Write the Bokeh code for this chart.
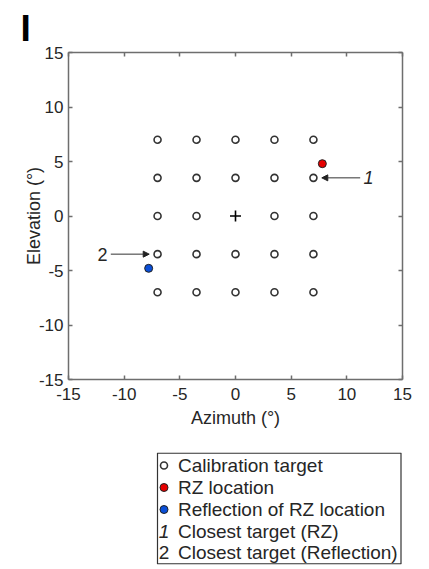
import itertools
from bokeh.plotting import figure
from bokeh.models import Range1d, LinearAxis, FixedTicker, Arrow, NormalHead, ColumnDataSource
from bokeh.layouts import column
from bokeh.embed import file_html
from bokeh.resources import INLINE
from bokeh.core.properties import value

# ---------------- data ----------------
target_az = [-7, -3.5, 0, 3.5, 7]
target_el = [7, 3.5, 0, -3.5, -7]
center_az = [0]
center_el = [0]
rz_az = [7.8]
rz_el = [4.8]
refl_az = [-7.8]
refl_el = [-4.8]
closest_labels = ["1", "2"]
closest_label_style = ["italic", "normal"]
closest_label_align = ["left", "right"]
arrow_start_az = [11.2, -11.2]
arrow_end_az = [7.75, -7.75]
arrow_el = [3.5, -3.5]
label_az = [11.5, -11.5]
ticks = [-15, -10, -5, 0, 5, 10, 15]
tick_labels = ["-15", "-10", "-5", "0", "5", "10", "15"]
legend_labels = ["Calibration target", "RZ location", "Reflection of RZ location",
                 "Closest target (RZ)", "Closest target (Reflection)"]
legend_numbers = ["1", "2"]
legend_number_style = ["italic", "normal"]

FONT = "Liberation Sans"
AXIS_COLOR = "#6e6e6e"
TEXT_COLOR = "#262626"

grid = [(a, e) for a, e in itertools.product(target_az, target_el) if not (a == 0 and e == 0)]
grid_az = [g[0] for g in grid]
grid_el = [g[1] for g in grid]

W = 421
BL, BR = 68, W - 402

# ---------------- main figure ----------------
p = figure(width=W, height=440, x_range=Range1d(-15, 15), y_range=Range1d(-15, 15),
           output_backend="svg", toolbar_location=None,
           min_border_left=BL, min_border_right=BR, min_border_top=52, min_border_bottom=61)
p.grid.visible = False
p.outline_line_color = None
p.background_fill_color = "white"
p.border_fill_color = "white"

p.title.text = "I"
p.title.text_font = FONT
p.title.text_font_size = "37px"
p.title.text_font_style = "bold"
p.title.text_color = "black"
p.title.align = "left"
p.title.offset = -48
p.title.standoff = 8

def style_axis(ax, labels=True):
    ax.ticker = FixedTicker(ticks=ticks)
    ax.axis_line_color = AXIS_COLOR
    ax.axis_line_width = 1.5
    ax.major_tick_line_color = AXIS_COLOR
    ax.major_tick_line_width = 1.5
    ax.major_tick_in = 4
    ax.major_tick_out = 0
    ax.minor_tick_line_color = None
    if labels:
        ax.major_label_overrides = {t: l for t, l in zip(ticks, tick_labels)}
        ax.major_label_text_font = FONT
        ax.major_label_text_font_size = "17px"
        ax.major_label_text_color = TEXT_COLOR
        ax.axis_label_text_font = FONT
        ax.axis_label_text_font_size = "18px"
        ax.axis_label_text_font_style = "normal"
        ax.axis_label_text_color = TEXT_COLOR
    else:
        ax.major_label_overrides = {t: "" for t in ticks}
        ax.major_label_standoff = 0

style_axis(p.xaxis[0])
style_axis(p.yaxis[0])
p.xaxis.axis_label = "Azimuth (°)"
p.yaxis.axis_label = "Elevation (°)"
p.xaxis.major_label_standoff = 8
p.xaxis.axis_label_standoff = 5
p.yaxis.major_label_standoff = 5
p.yaxis.axis_label_standoff = -8

top_ax = LinearAxis()
right_ax = LinearAxis()
style_axis(top_ax, labels=False)
style_axis(right_ax, labels=False)
p.add_layout(top_ax, "above")
p.add_layout(right_ax, "right")

p.scatter(grid_az, grid_el, marker="circle", size=7, fill_color="white",
          line_color="#333333", line_width=1.6)
p.scatter(center_az, center_el, marker="cross", size=11, line_color="black", line_width=1.6)
p.scatter(rz_az, rz_el, marker="circle", size=8, fill_color="#e60000",
          line_color="#222222", line_width=1)
p.scatter(refl_az, refl_el, marker="circle", size=8, fill_color="#0a4fd8",
          line_color="#222222", line_width=1)

arrow_src = ColumnDataSource(dict(x0=arrow_start_az, x1=arrow_end_az, y=arrow_el))
p.add_layout(Arrow(end=NormalHead(size=6, fill_color="#222222", line_color="#222222", line_width=1),
                   x_start="x0", y_start="y", x_end="x1", y_end="y",
                   line_color="#333333", line_width=1, source=arrow_src))

lab_src = ColumnDataSource(dict(x=label_az, y=arrow_el, t=closest_labels,
                                s=closest_label_style, a=closest_label_align))
p.text(x="x", y="y", text="t", text_font_style="s", text_align="a", source=lab_src,
       text_baseline="middle", text_font=value(FONT), text_font_size="18px",
       text_color=TEXT_COLOR)

# ---------------- legend figure ----------------
leg = figure(width=W, height=125, x_range=Range1d(0, 334), y_range=Range1d(112, 0),
             output_backend="svg", toolbar_location=None,
             x_axis_type=None, y_axis_type=None,
             min_border_left=BL, min_border_right=BR, min_border_top=12, min_border_bottom=1)
leg.grid.visible = False
leg.outline_line_color = None

box_l, box_r = 89, 332.5
leg.quad(left=[box_l], right=[box_r], top=[0.6], bottom=[111.4], fill_color="white",
         line_color="#333333", line_width=1.2)

rows = [13, 35, 57, 78.5, 100]
mx = box_l + 6.5
tx = box_l + 20.5
leg.scatter([mx], [rows[0]], marker="circle", size=7, fill_color="white",
            line_color="#333333", line_width=1.6)
leg.scatter([mx], [rows[1]], marker="circle", size=8, fill_color="#e60000",
            line_color="#222222", line_width=1)
leg.scatter([mx], [rows[2]], marker="circle", size=8, fill_color="#0a4fd8",
            line_color="#222222", line_width=1)
num_src = ColumnDataSource(dict(x=[mx, mx], y=rows[3:5], t=legend_numbers, s=legend_number_style))
leg.text(x="x", y="y", text="t", text_font_style="s", source=num_src, text_align="center",
         text_baseline="middle", text_font=value(FONT), text_font_size="19px",
         text_color=TEXT_COLOR)
leg.text(x=[tx] * 5, y=rows, text=legend_labels, text_align="left",
         text_baseline="middle", text_font=value(FONT), text_font_size="19px",
         text_color=TEXT_COLOR)

layout = column(p, leg, spacing=0)
open("out.html", "w").write(file_html(layout, INLINE))
